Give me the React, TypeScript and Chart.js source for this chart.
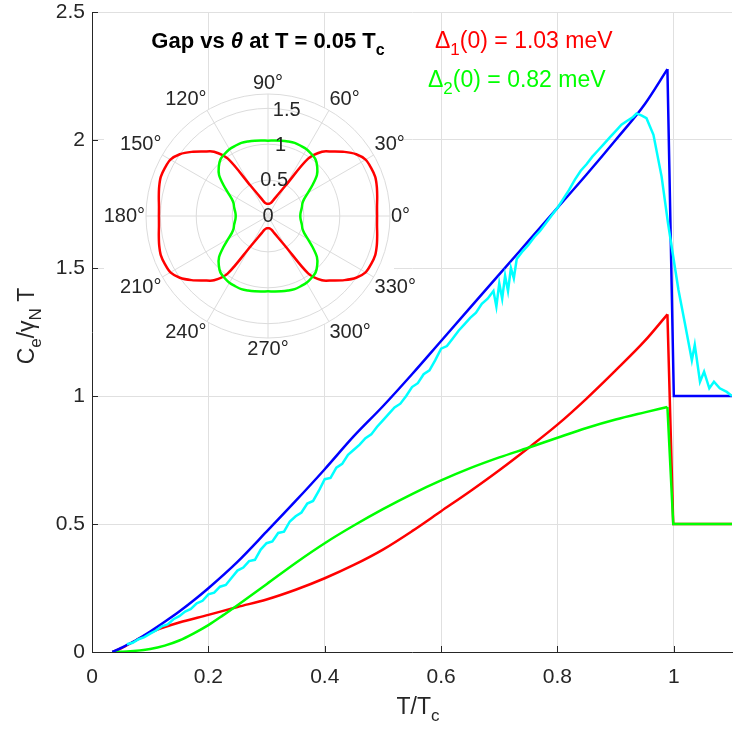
import React, { useEffect, useRef } from "react";
import { Chart, registerables } from "chart.js";

Chart.register(...registerables);

const FONT = '"Liberation Sans", Arial, Helvetica, sans-serif';
const TXT = "#262626";
const GRID = "#e0e0e0";

// ---------- main axes ----------
const xTickValues = [0, 0.2, 0.4, 0.6, 0.8, 1];
const xTickLabels = ["0", "0.2", "0.4", "0.6", "0.8", "1"];
const yTickValues = [0, 0.5, 1, 1.5, 2, 2.5];
const yTickLabels = ["0", "0.5", "1", "1.5", "2", "2.5"];

// total (blue)
const totalT = [0.035, 0.05, 0.075, 0.1, 0.125, 0.15, 0.175, 0.2, 0.25, 0.3, 0.35, 0.4, 0.45, 0.5, 0.55, 0.6, 0.65, 0.7, 0.75, 0.8, 0.85, 0.9, 0.95, 0.989, 1.0, 1.1];
const totalC = [0, 0.016, 0.045, 0.08, 0.118, 0.158, 0.202, 0.249, 0.352, 0.47, 0.59, 0.714, 0.843, 0.96, 1.085, 1.215, 1.345, 1.475, 1.605, 1.735, 1.865, 2.0, 2.14, 2.277, 1.0, 1.0];

// band 1 (red)
const band1T = [0.035, 0.05, 0.075, 0.1, 0.125, 0.15, 0.2, 0.25, 0.3, 0.35, 0.4, 0.45, 0.5, 0.55, 0.6, 0.65, 0.7, 0.75, 0.8, 0.85, 0.9, 0.95, 0.989, 0.999, 1.1];
const band1C = [0, 0.014, 0.045, 0.075, 0.097, 0.115, 0.145, 0.176, 0.205, 0.243, 0.288, 0.34, 0.4, 0.472, 0.55, 0.628, 0.71, 0.797, 0.888, 0.99, 1.1, 1.215, 1.319, 0.5, 0.5];

// band 2 (green)
const band2T = [0.035, 0.06, 0.1, 0.125, 0.15, 0.175, 0.2, 0.225, 0.25, 0.3, 0.35, 0.4, 0.45, 0.5, 0.55, 0.6, 0.65, 0.7, 0.75, 0.8, 0.85, 0.9, 0.95, 0.989, 0.999, 1.1];
const band2C = [0, 0.002, 0.012, 0.025, 0.045, 0.073, 0.105, 0.143, 0.183, 0.265, 0.348, 0.425, 0.494, 0.558, 0.617, 0.67, 0.718, 0.76, 0.798, 0.837, 0.875, 0.908, 0.936, 0.957, 0.5, 0.5];

// measured-like curve (cyan)
const measT = [0.06, 0.07, 0.08, 0.09, 0.1, 0.11, 0.12, 0.13, 0.14, 0.15, 0.16, 0.17, 0.18, 0.19, 0.2, 0.21, 0.22, 0.23, 0.24, 0.25, 0.26, 0.27, 0.28, 0.29, 0.3, 0.31, 0.32, 0.33, 0.34, 0.35, 0.36, 0.37, 0.38, 0.39, 0.4, 0.41, 0.42, 0.43, 0.44, 0.45, 0.46, 0.47, 0.48, 0.49, 0.5, 0.51, 0.52, 0.53, 0.54, 0.55, 0.56, 0.57, 0.58, 0.59, 0.6, 0.61, 0.62, 0.63, 0.64, 0.65, 0.66, 0.67, 0.68, 0.69, 0.695, 0.7, 0.705, 0.71, 0.715, 0.72, 0.725, 0.73, 0.74, 0.75, 0.76, 0.77, 0.78, 0.79, 0.8, 0.81, 0.82, 0.83, 0.84, 0.85, 0.86, 0.87, 0.88, 0.89, 0.9, 0.91, 0.92, 0.93, 0.936, 0.945, 0.953, 0.965, 0.979, 0.99, 0.999, 1.008, 1.019, 1.031, 1.036, 1.045, 1.052, 1.061, 1.069, 1.079, 1.091, 1.1];
const measC = [0.03, 0.036, 0.05, 0.058, 0.072, 0.084, 0.1, 0.108, 0.128, 0.14, 0.158, 0.168, 0.19, 0.2, 0.225, 0.232, 0.255, 0.262, 0.29, 0.318, 0.33, 0.355, 0.36, 0.4, 0.425, 0.432, 0.465, 0.47, 0.51, 0.53, 0.545, 0.58, 0.59, 0.63, 0.675, 0.68, 0.72, 0.735, 0.77, 0.79, 0.81, 0.835, 0.85, 0.88, 0.905, 0.93, 0.955, 0.97, 1.0, 1.035, 1.05, 1.085, 1.1, 1.14, 1.185, 1.195, 1.225, 1.255, 1.28, 1.305, 1.325, 1.36, 1.38, 1.41, 1.35, 1.44, 1.38, 1.47, 1.41, 1.5, 1.46, 1.535, 1.565, 1.59, 1.62, 1.645, 1.675, 1.705, 1.735, 1.77, 1.805, 1.845, 1.88, 1.905, 1.935, 1.96, 1.985, 2.01, 2.035, 2.06, 2.075, 2.09, 2.104, 2.095, 2.085, 2.02, 1.857, 1.675, 1.544, 1.414, 1.284, 1.14, 1.2, 1.056, 1.095, 1.03, 1.056, 1.03, 1.016, 1.0];

// ---------- polar inset ----------
const thetaQuarter = [0, 5, 10, 15, 20, 25, 30, 35, 40, 45, 50, 55, 60, 65, 70, 75, 80, 85, 90];
const gap1Quarter = [1.52, 1.525, 1.545, 1.57, 1.59, 1.585, 1.57, 1.5, 1.39, 1.27, 1.17, 0.975, 0.49, 0.33, 0.25, 0.2, 0.18, 0.17, 0.17];
const gap2Quarter = [0.45, 0.455, 0.47, 0.49, 0.51, 0.555, 0.64, 0.76, 0.89, 0.97, 1.03, 1.055, 1.075, 1.08, 1.085, 1.075, 1.065, 1.055, 1.05];
const thetaTickValues = [0, 30, 60, 90, 120, 150, 180, 210, 240, 270, 300, 330];
const thetaTickLabels = ["0°", "30°", "60°", "90°", "120°", "150°", "180°", "210°", "240°", "270°", "300°", "330°"];
const rRingValues = [0, 0.5, 1, 1.5, 1.7];
const rTickValues = [0, 0.5, 1, 1.5];
const rTickLabels = ["0", "0.5", "1", "1.5"];

type Seg = { t: string; sub?: boolean; italic?: boolean };

function drawRich(
  ctx: CanvasRenderingContext2D,
  segs: Seg[],
  x: number,
  y: number,
  size: number,
  color: string,
  align: "left" | "center",
  bold = false
) {
  const fontFor = (s: Seg) =>
    `${s.italic ? "italic " : ""}${bold ? "bold " : ""}${s.sub ? Math.round(size * 0.72) : size}px ${FONT}`;
  let w = 0;
  for (const s of segs) {
    ctx.font = fontFor(s);
    w += ctx.measureText(s.t).width;
  }
  let cx = align === "center" ? x - w / 2 : x;
  ctx.fillStyle = color;
  ctx.textAlign = "left";
  ctx.textBaseline = "alphabetic";
  for (const s of segs) {
    ctx.font = fontFor(s);
    ctx.fillText(s.t, cx, s.sub ? y + size * 0.32 : y);
    cx += ctx.measureText(s.t).width;
  }
}

const pts = (t: number[], c: number[]) => t.map((x, i) => ({ x, y: c[i] }));
const peakIndex = (c: number[]) => c.indexOf(Math.max(...c));

function branch(t: number[], c: number[], color: string) {
  const p = peakIndex(c);
  const rise = pts(t.slice(0, p + 1), c.slice(0, p + 1));
  const tail = pts(t.slice(p), c.slice(p));
  return [
    { data: rise, borderColor: color, borderWidth: 2.5, pointRadius: 0, cubicInterpolationMode: "monotone", fill: false },
    { data: tail, borderColor: color, borderWidth: 2.5, pointRadius: 0, tension: 0, fill: false },
  ];
}

const mainDecor = {
  id: "mainDecor",
  afterDraw(chart: any) {
    const ctx: CanvasRenderingContext2D = chart.ctx;
    const xs = chart.scales.x;
    const ys = chart.scales.y;
    const { left, bottom } = chart.chartArea;
    ctx.save();
    ctx.strokeStyle = TXT;
    ctx.lineWidth = 1;
    xTickValues.forEach((v) => {
      const px = Math.round(xs.getPixelForValue(v)) + 0.5;
      ctx.beginPath();
      ctx.moveTo(px, bottom);
      ctx.lineTo(px, bottom - 6);
      ctx.stroke();
    });
    yTickValues.forEach((v) => {
      const py = Math.round(ys.getPixelForValue(v)) + 0.5;
      ctx.beginPath();
      ctx.moveTo(left, py);
      ctx.lineTo(left + 6, py);
      ctx.stroke();
    });
    // x title
    drawRich(ctx, [{ t: "T/T" }, { t: "c", sub: true }], 418, 714, 23, TXT, "center");
    // y title
    ctx.save();
    ctx.translate(34, 326);
    ctx.rotate(-Math.PI / 2);
    drawRich(
      ctx,
      [{ t: "C" }, { t: "e", sub: true }, { t: "/" }, { t: "γ" }, { t: "N", sub: true }, { t: " T" }],
      0,
      0,
      23,
      TXT,
      "center"
    );
    ctx.restore();
    // inset title
    drawRich(
      ctx,
      [{ t: "Gap vs " }, { t: "θ", italic: true }, { t: " at T = 0.05 T" }, { t: "c", sub: true }],
      268,
      48,
      22,
      "#000000",
      "center",
      true
    );
    // annotations
    drawRich(ctx, [{ t: "Δ" }, { t: "1", sub: true }, { t: "(0) = 1.03 meV" }], 435, 48, 23, "#ff0000", "left");
    drawRich(ctx, [{ t: "Δ" }, { t: "2", sub: true }, { t: "(0) = 0.82 meV" }], 428, 87, 23, "#00ff00", "left");
    ctx.restore();
  },
};

// inset canvas placement on the page
const INSET_LEFT = 96;
const INSET_TOP = 44;
const INSET_SIZE = 344;

const insetDecor = {
  id: "insetDecor",
  beforeDraw(chart: any) {
    const ctx: CanvasRenderingContext2D = chart.ctx;
    const r = chart.scales.r;
    ctx.save();
    ctx.fillStyle = "#ffffff";
    ctx.fillRect(104 - INSET_LEFT, 118 - INSET_TOP, 394 - 104, 316 - 118);
    ctx.beginPath();
    ctx.arc(r.xCenter, r.yCenter, r.drawingArea, 0, Math.PI * 2);
    ctx.fill();
    ctx.restore();
  },
  afterDraw(chart: any) {
    const ctx: CanvasRenderingContext2D = chart.ctx;
    const r = chart.scales.r;
    const n = chart.data.labels.length;
    const step = 360 / n;
    ctx.save();
    ctx.fillStyle = TXT;
    ctx.font = `20px ${FONT}`;
    ctx.textAlign = "center";
    ctx.textBaseline = "middle";
    const h = 20;
    thetaTickValues.forEach((a, k) => {
      const idx = ((((90 - a) / step) % n) + n) % n;
      const p = r.getPointPosition(idx, r.drawingArea + 1);
      const c = Math.cos((a * Math.PI) / 180);
      const s = Math.sin((a * Math.PI) / 180);
      const w = ctx.measureText(thetaTickLabels[k]).width;
      const ox = Math.abs(c) > 0.01 ? Math.sign(c) * w / 2 : 0;
      const oy = Math.abs(s) > 0.01 ? -Math.sign(s) * h / 2 : 0;
      ctx.fillText(thetaTickLabels[k], p.x + ox, p.y + oy);
    });
    const rIdx = (90 - 80) / step;
    rTickValues.forEach((v, k) => {
      const p = r.getPointPositionForValue(rIdx, v);
      ctx.fillText(rTickLabels[k], p.x, p.y);
    });
    ctx.restore();
  },
};

function buildRadar() {
  const n = 72;
  const step = 360 / n;
  const angles = Array.from({ length: n }, (_, k) => (((90 - step * k) % 360) + 360) % 360);
  const fold = (a: number) => (a <= 90 ? a : a <= 180 ? 180 - a : a <= 270 ? a - 180 : 360 - a);
  const lookup = (arr: number[]) => angles.map((a) => arr[thetaQuarter.indexOf(fold(a))]);
  return {
    type: "radar",
    data: {
      labels: angles.map((a) => `${a}°`),
      datasets: [
        { data: lookup(gap2Quarter), borderColor: "#00ff00", borderWidth: 2.5, pointRadius: 0, fill: false, tension: 0.3 },
        { data: lookup(gap1Quarter), borderColor: "#ff0000", borderWidth: 2.5, pointRadius: 0, fill: false, tension: 0.3 },
      ],
    },
    options: {
      animation: false,
      responsive: false,
      layout: { padding: 50 },
      plugins: { legend: { display: false }, tooltip: { enabled: false } },
      scales: {
        r: {
          min: 0,
          max: 1.7,
          startAngle: 0,
          afterBuildTicks: (s: any) => {
            s.ticks = rRingValues.map((v) => ({ value: v }));
          },
          ticks: { display: false },
          pointLabels: { display: false },
          grid: { circular: true, color: "#dcdcdc", lineWidth: 1 },
          angleLines: {
            color: "#dcdcdc",
            lineWidth: (c: any) => (c.index % 6 === 0 ? 1 : 0),
          },
        },
      },
    },
    plugins: [insetDecor],
  };
}

function buildMain() {
  return {
    type: "line",
    data: {
      datasets: [
        { data: pts(measT, measC), borderColor: "#00ffff", borderWidth: 2.5, pointRadius: 0, tension: 0, fill: false },
        ...branch(totalT, totalC, "#0000ff"),
        ...branch(band2T, band2C, "#00ff00"),
        ...branch(band1T, band1C, "#ff0000"),
      ],
    },
    options: {
      animation: false,
      responsive: false,
      layout: { padding: { top: 12, right: 3, left: 0, bottom: 0 } },
      plugins: { legend: { display: false }, tooltip: { enabled: false } },
      scales: {
        x: {
          type: "linear",
          min: 0,
          max: 1.1,
          afterFit: (s: any) => {
            s.height = 80;
            s.paddingLeft = 0;
            s.paddingRight = 0;
          },
          afterBuildTicks: (s: any) => {
            s.ticks = xTickValues.map((v) => ({ value: v }));
          },
          ticks: {
            callback: (_v: any, i: number) => xTickLabels[i],
            font: { size: 21, family: FONT },
            color: TXT,
            padding: 13,
            maxRotation: 0,
            autoSkip: false,
          },
          grid: { color: GRID, drawTicks: false },
          border: { color: TXT, width: 1 },
        },
        y: {
          type: "linear",
          min: 0,
          max: 2.5,
          afterFit: (s: any) => {
            s.width = 92;
            s.paddingTop = 0;
            s.paddingBottom = 0;
          },
          afterBuildTicks: (s: any) => {
            s.ticks = yTickValues.map((v) => ({ value: v }));
          },
          ticks: {
            callback: (_v: any, i: number) => yTickLabels[i],
            font: { size: 21, family: FONT },
            color: TXT,
            padding: 7,
            autoSkip: false,
          },
          grid: { color: GRID, drawTicks: false },
          border: { color: TXT, width: 1 },
        },
      },
    },
    plugins: [mainDecor],
  };
}

export default function App() {
  const mainRef = useRef<HTMLCanvasElement>(null);
  const insetRef = useRef<HTMLCanvasElement>(null);
  useEffect(() => {
    const main = new Chart(mainRef.current as HTMLCanvasElement, buildMain() as any);
    const inset = new Chart(insetRef.current as HTMLCanvasElement, buildRadar() as any);
    return () => {
      main.destroy();
      inset.destroy();
    };
  }, []);
  return (
    <div style={{ position: "absolute", left: 0, top: 0, width: 735, height: 732, background: "#ffffff" }}>
      <canvas ref={mainRef} width={735} height={732} style={{ position: "absolute", left: 0, top: 0 }} />
      <canvas
        ref={insetRef}
        width={INSET_SIZE}
        height={INSET_SIZE}
        style={{ position: "absolute", left: INSET_LEFT, top: INSET_TOP }}
      />
    </div>
  );
}
